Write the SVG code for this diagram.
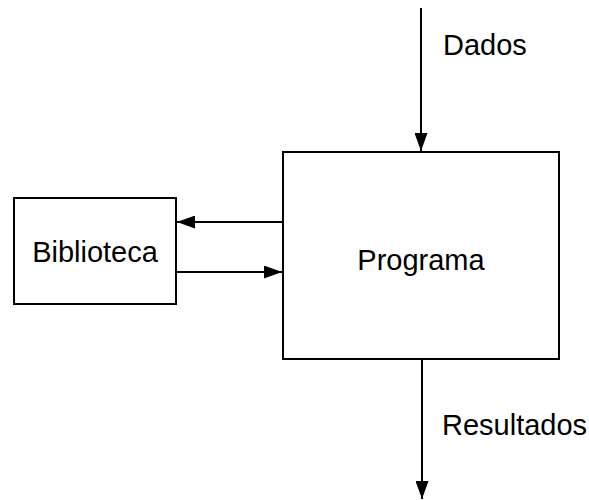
<svg xmlns="http://www.w3.org/2000/svg" width="589" height="500" viewBox="0 0 589 500">
<style>
.box{fill:#fff;stroke:#000;stroke-width:2}
.ln{fill:none;stroke:#000;stroke-width:2}
text{font-family:"Liberation Sans",Arial,sans-serif;font-size:29px;fill:#000}
</style>
<defs>
<marker id="ah" markerWidth="18" markerHeight="13" refX="18" refY="6.5" orient="auto" markerUnits="userSpaceOnUse">
<path d="M0,0 L18,6.5 L0,13 Z" fill="#000"/>
</marker>
</defs>
<g id="programa">
<rect class="box" x="283" y="152" width="276" height="207"/>
<text x="421" y="270" text-anchor="middle">Programa</text>
</g>
<g id="biblioteca">
<rect class="box" x="14" y="198" width="162" height="106"/>
<text x="95" y="262" text-anchor="middle">Biblioteca</text>
</g>
<g id="connectors">
<line class="ln" x1="421" y1="8" x2="421" y2="151" marker-end="url(#ah)"/>
<line class="ln" x1="282" y1="222" x2="177" y2="222" marker-end="url(#ah)"/>
<line class="ln" x1="177" y1="272" x2="282" y2="272" marker-end="url(#ah)"/>
<line class="ln" x1="422" y1="360" x2="422" y2="499" marker-end="url(#ah)"/>
<text x="443" y="55">Dados</text>
<text x="442" y="435">Resultados</text>
</g>
</svg>
